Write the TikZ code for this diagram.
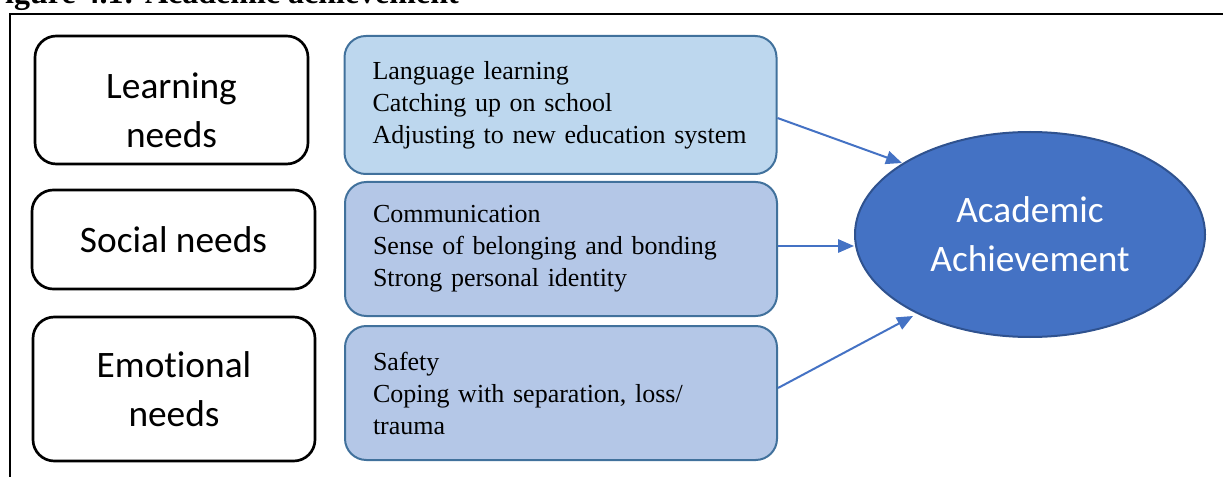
\documentclass[tikz,border=0pt]{standalone}
\usepackage{fontspec}
\setmainfont{Liberation Serif}
\newfontfamily\calibri{Carlito}[Ligatures={NoCommon}]
\usetikzlibrary{shapes.geometric,arrows.meta}
\definecolor{lightbox}{HTML}{BDD7EE}
\definecolor{midbox}{HTML}{B4C7E7}
\definecolor{boxline}{HTML}{41719C}
\definecolor{achfill}{HTML}{4472C4}
\definecolor{achline}{HTML}{2F528F}
\tikzset{
  needbox/.style={draw=black,line width=2pt,rounded corners=16pt,align=center,
    font=\calibri\fontsize{28}{37}\selectfont},
  listbox/.style={draw=boxline,line width=1.5pt,rounded corners=16pt,align=left,
    text width=282pt,inner xsep=21pt,font=\fontsize{19.5}{24}\selectfont},
  toach/.style={draw=achfill,line width=1.5pt,-{Triangle[length=12pt,width=10pt]}}
}
\begin{document}
\begin{tikzpicture}[x=0.75pt,y=-0.75pt]
    \useasboundingbox (0,0) rectangle (1223,477);
    \clip (0,0) rectangle (1223,477);
    % caption and frame
    \node[anchor=base east,inner sep=0pt,font=\bfseries\fontsize{24}{28}\selectfont] (cap) at (459,4) {Figure 4.1: Academic achievement};
    \draw[line width=1.5pt] (10,500) -- (10,14) -- (1240,14);
    % needs
    \node[needbox,minimum width=204.75pt,minimum height=96pt] (learn) at (171.5,100) {};
    \node[align=center,font=\calibri\fontsize{28}{37}\selectfont] (learntxt) at (171.5,110) {Learning\\needs};
    \node[needbox,minimum width=212.25pt,minimum height=74.25pt] (social) at (173.5,239.5) {Social needs};
    \node[needbox,minimum width=211.5pt,minimum height=108pt] (emo) at (174,389) {Emotional\\needs};
    % lists
    \node[listbox,fill=lightbox,minimum height=103.5pt] (learnlist) at (560.5,105) {Language learning\\Catching up on school\\Adjusting to new education system};
    \node[listbox,fill=midbox,minimum height=100.5pt] (sociallist) at (561,249) {Communication\\Sense of belonging and bonding\\Strong personal identity};
    \node[listbox,fill=midbox,minimum height=100.5pt] (emolist) at (561,393) {Safety\\Coping with separation, loss/\\trauma};
    % outcome
    \node[ellipse,draw=achline,line width=1.5pt,fill=achfill,text=white,minimum width=262.5pt,minimum height=153.75pt,align=center,
      font=\calibri\fontsize{28}{37}\selectfont] (ach) at (1030,234.5) {Academic\\Achievement};
    \draw[toach] (learnlist.east |- 0,118) -- (902,163);
    \draw[toach] (sociallist.east |- 0,246) -- (ach.west |- 0,246);
    \draw[toach] (emolist.east |- 0,388) -- (913,316);
\end{tikzpicture}
\end{document}
